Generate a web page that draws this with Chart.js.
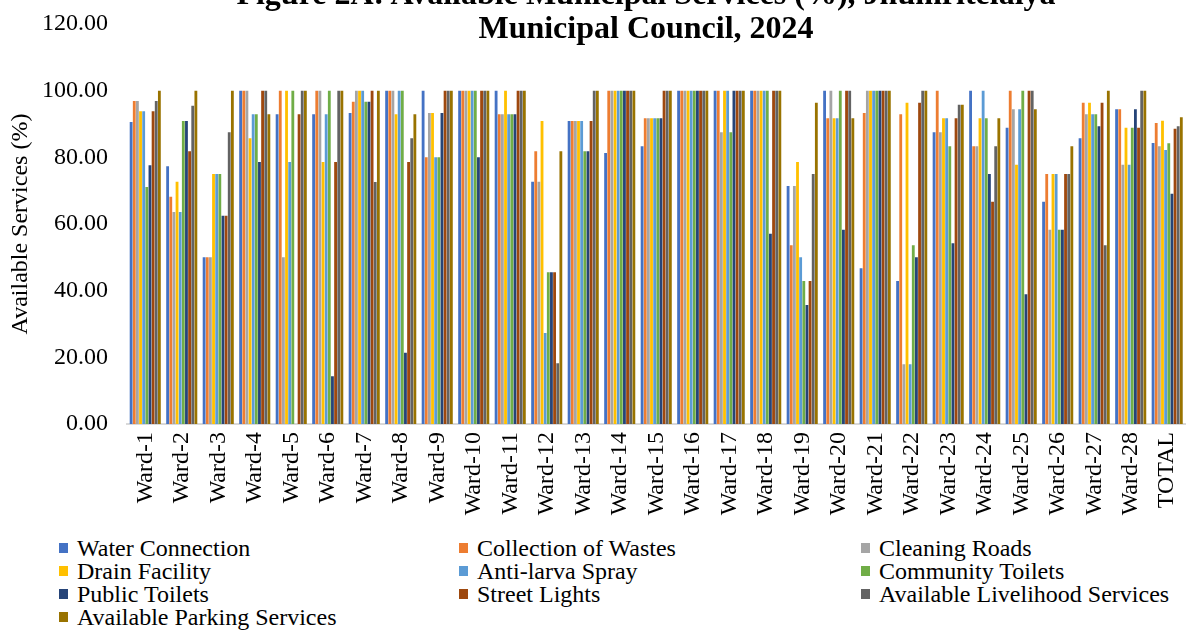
<!DOCTYPE html>
<html>
<head>
<meta charset="utf-8">
<script src="https://cdn.jsdelivr.net/npm/chart.js@4.4.1/dist/chart.umd.min.js"></script>
<style>
  html, body { margin: 0; padding: 0; background: #fff; overflow: hidden; }
  #page { position: relative; width: 1195px; height: 630px; overflow: hidden; }
  #chartBox { position: absolute; left: 0; top: 0; width: 1204px; height: 530px; }
  #title {
    position: absolute; left: 146px; width: 1000px; top: -24.5px;
    text-align: center; font: bold 32px "Liberation Serif", serif; line-height: 34.5px; color: #000;
  }
  #legend {
    position: absolute; left: 59px; top: 537px; width: 1136px;
    display: grid; grid-template-columns: 400px 402px 334px;
    font: 24px "Liberation Serif", serif; line-height: 23px; color: #000;
  }
  .item { position: relative; padding-left: 18px; white-space: nowrap; }
  .box { position: absolute; left: 0; top: 6px; width: 9px; height: 10px; }
</style>
</head>
<body>
<div id="page">
  <div id="chartBox"><canvas id="servicesChart" width="1204" height="530"></canvas></div>
  <div id="title">Figure 2A: Available Municipal Services (%), Jhumritelaiya<br>Municipal Council, 2024</div>
  <div id="legend"></div>
</div>
<script>
const wards = ['Ward-1', 'Ward-2', 'Ward-3', 'Ward-4', 'Ward-5', 'Ward-6', 'Ward-7', 'Ward-8', 'Ward-9', 'Ward-10',
  'Ward-11', 'Ward-12', 'Ward-13', 'Ward-14', 'Ward-15', 'Ward-16', 'Ward-17', 'Ward-18', 'Ward-19', 'Ward-20',
  'Ward-21', 'Ward-22', 'Ward-23', 'Ward-24', 'Ward-25', 'Ward-26', 'Ward-27', 'Ward-28', 'TOTAL'];

const waterConnection = [90.6, 77.3, 50, 100, 92.9, 92.9, 93.3, 100, 100, 100, 100, 72.7, 90.9, 81.3, 83.3, 100, 100, 100, 71.4, 100, 46.7, 42.9, 87.5, 100, 88.9, 66.7, 85.7, 94.4, 84.3];
const collectionWastes = [96.9, 68.2, 50, 100, 100, 100, 96.7, 100, 80, 100, 92.9, 81.8, 90.9, 100, 91.7, 100, 100, 100, 53.6, 91.7, 93.3, 92.9, 100, 83.3, 100, 75, 96.4, 94.4, 90.3];
const cleaningRoads = [96.9, 63.6, 50, 100, 50, 100, 100, 100, 93.3, 100, 92.9, 72.7, 90.9, 100, 91.7, 100, 87.5, 100, 71.4, 100, 100, 17.9, 87.5, 83.3, 94.4, 58.3, 92.9, 77.8, 83.3];
const drainFacility = [93.8, 72.7, 75, 85.7, 100, 78.6, 100, 92.9, 93.3, 100, 100, 90.9, 90.9, 100, 91.7, 100, 100, 100, 78.6, 91.7, 100, 96.4, 91.7, 91.7, 77.8, 75, 96.4, 88.9, 91.0];
const antiLarva = [93.8, 63.6, 75, 92.9, 78.6, 92.9, 100, 100, 80, 100, 92.9, 27.3, 90.9, 100, 91.7, 100, 100, 100, 50, 91.7, 100, 17.9, 91.7, 100, 94.4, 75, 92.9, 77.8, 82.2];
const communityToilets = [71.1, 90.9, 75, 92.9, 100, 100, 96.7, 100, 80, 100, 92.9, 45.5, 81.8, 100, 91.7, 100, 87.5, 100, 42.9, 100, 100, 53.6, 83.3, 91.7, 100, 58.3, 92.9, 88.9, 84.2];
const publicToilets = [77.6, 90.9, 62.5, 78.6, 0, 14.3, 96.7, 21.4, 93.3, 80, 92.9, 45.5, 81.8, 100, 91.7, 100, 100, 57.1, 35.7, 58.3, 100, 50, 54.2, 75, 38.9, 58.3, 89.3, 94.4, 69.1];
const streetLights = [93.8, 81.8, 62.5, 100, 92.9, 78.6, 100, 78.6, 100, 100, 100, 45.5, 90.9, 100, 100, 100, 100, 100, 42.9, 100, 100, 96.4, 91.7, 66.7, 100, 75, 96.4, 88.9, 88.6];
const livelihood = [96.9, 95.5, 87.5, 100, 100, 100, 72.6, 85.7, 100, 100, 100, 18.2, 100, 100, 100, 100, 100, 100, 75, 100, 100, 100, 95.8, 83.3, 100, 75, 53.6, 100, 89.3];
const parking = [100, 100, 100, 92.9, 100, 100, 100, 92.9, 100, 100, 100, 81.8, 100, 100, 100, 100, 100, 100, 96.4, 91.7, 100, 100, 95.8, 91.7, 94.4, 83.3, 100, 100, 92.0];

const seriesNames = ['Water Connection', 'Collection of Wastes', 'Cleaning Roads', 'Drain Facility', 'Anti-larva Spray',
  'Community Toilets', 'Public Toilets', 'Street Lights', 'Available Livelihood Services', 'Available Parking Services'];
const seriesValues = [waterConnection, collectionWastes, cleaningRoads, drainFacility, antiLarva,
  communityToilets, publicToilets, streetLights, livelihood, parking];
const seriesColors = ['#4472C4', '#ED7D31', '#A5A5A5', '#FFC000', '#5B9BD5', '#70AD47', '#264478', '#9E480E', '#636363', '#997300'];

const yTicks = [0, 20, 40, 60, 80, 100, 120];

const serif = '"Liberation Serif", "Times New Roman", serif';

// legend laid out in three columns like the original
const legendEl = document.getElementById('legend');
seriesNames.forEach((name, i) => {
  const item = document.createElement('div');
  item.className = 'item';
  item.innerHTML = '<span class="box" style="background:' + seriesColors[i] + '"></span>' + name;
  legendEl.appendChild(item);
});

const ctx = document.getElementById('servicesChart').getContext('2d');
new Chart(ctx, {
  type: 'bar',
  data: {
    labels: wards,
    datasets: seriesNames.map((name, i) => ({
      label: name,
      data: seriesValues[i],
      backgroundColor: seriesColors[i],
      borderWidth: 0,
      barPercentage: 0.9,
      categoryPercentage: 0.86
    }))
  },
  options: {
    responsive: false,
    animation: false,
    devicePixelRatio: 1,
    layout: { padding: { top: 24, left: 0, right: 0, bottom: 0 } },
    plugins: {
      legend: { display: false },
      title: { display: false },
      tooltip: { enabled: false }
    },
    scales: {
      x: {
        grid: { display: false, drawTicks: false },
        border: { display: true, color: '#D9D9D9', width: 2 },
        ticks: {
          autoSkip: false,
          minRotation: 90,
          maxRotation: 90,
          padding: 8,
          color: '#000',
          font: { family: serif, size: 24 }
        },
        afterFit: s => { s.height = 106; }
      },
      y: {
        min: 0,
        max: 120,
        afterBuildTicks: s => { s.ticks = yTicks.map(v => ({ value: v })); },
        grid: { display: false, drawTicks: false },
        border: { display: false },
        ticks: {
          padding: 19,
          color: '#000',
          font: { family: serif, size: 24 },
          callback: v => Number(v).toFixed(2)
        },
        title: {
          display: true,
          text: 'Available Services (%)',
          color: '#000',
          font: { family: serif, size: 24 },
          padding: { top: 6, bottom: 0 }
        },
        afterFit: s => { s.width = 127; s.paddingTop = 0; s.paddingBottom = 0; }
      }
    }
  }
});
</script>
</body>
</html>
